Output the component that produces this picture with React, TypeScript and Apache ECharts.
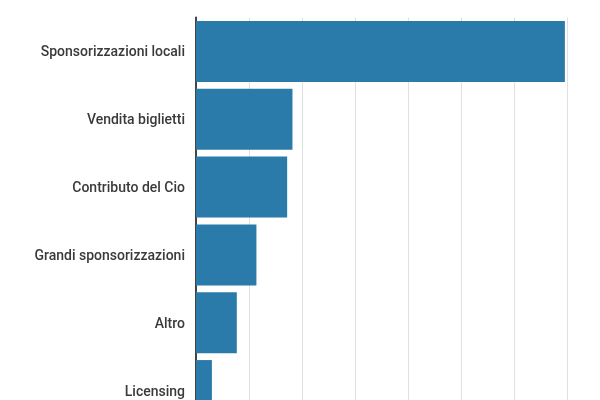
import { useEffect, useRef } from 'react';
import * as echarts from 'echarts';

const categories = [
    'Sponsorizzazioni locali',
    'Vendita biglietti',
    'Contributo del Cio',
    'Grandi sponsorizzazioni',
    'Altro',
    'Licensing',
];
const values = [696, 182, 172, 114, 77, 30];

export default function App() {
    const chartRef = useRef<HTMLDivElement>(null);

    useEffect(() => {
        document.body.style.margin = '0';
        document.body.style.overflow = 'hidden';
        const myChart = echarts.init(chartRef.current, null, { renderer: 'svg' });

        myChart.setOption({
            animation: false,
            grid: { left: 196, right: 33, top: 17.5, height: 407 },
            xAxis: {
                type: 'value',
                min: 0,
                max: 700,
                interval: 100,
                axisLabel: { show: false },
                axisLine: { show: false },
                axisTick: { show: false },
                splitLine: { lineStyle: { color: '#e0e0e0', width: 1 } },
            },
            yAxis: {
                type: 'category',
                inverse: true,
                data: categories,
                axisTick: { show: false },
                axisLine: { lineStyle: { color: '#444', width: 2 } },
                axisLabel: {
                    margin: 11,
                    color: '#3a3a3a',
                    fontSize: 14,
                    fontWeight: 500,
                    fontFamily: 'Roboto',
                },
            },
            series: [
                {
                    type: 'bar',
                    data: values,
                    barCategoryGap: '10%',
                    itemStyle: { color: '#2a7ba9' },
                },
            ],
        });

        // Clean up the chart when component unmounts
        return () => {
            myChart.dispose();
        };
    }, []);

    return (
        <div
            ref={chartRef}
            style={{ position: 'fixed', left: 0, top: 0, width: '600px', height: '440px' }}
        />
    );
}
